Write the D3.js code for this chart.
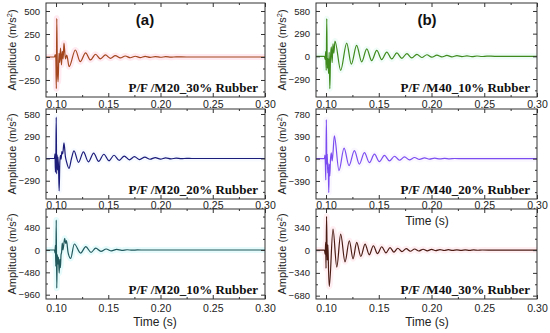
<!DOCTYPE html>
<html><head><meta charset="utf-8">
<script src="https://cdn.jsdelivr.net/npm/d3@7"></script>
<style>body{margin:0;background:#fff}svg{display:block}</style>
</head><body>
<svg id="c" width="550" height="333"></svg>
<script>
// ---------- data ----------
const panelNames = ["P/F /M20_30% Rubber","P/F /M20_20% Rubber","P/F /M20_10% Rubber",
                    "P/F /M40_10% Rubber","P/F /M40_20% Rubber","P/F /M40_30% Rubber"];
const xTicks = [0.10,0.15,0.20,0.25,0.30];
const yTicksM20_30 = [-250,0,250,500];
const yTicksM20_20 = [-290,0,290,580];
const yTicksM20_10 = [-960,-480,0,480];
const yTicksM40_10 = [-290,0,290,580];
const yTicksM40_20 = [-390,0,390,780];
const yTicksM40_30 = [-680,-340,0,340];

// [time (s), amplitude (m/s^2)] — extrema
const m20_30 = [[0.0904,0],[0.0985,0],[0.0992,25],[0.0998,-10],[0.1003,-345],[0.1007,420],[0.1013,-150],
 [0.1020,-270],[0.1028,40],[0.1035,-60],[0.1043,98],[0.1052,-87],[0.1060,60],[0.1068,-20],[0.1076,152],
 [0.1090,-20],[0.1103,20],[0.1125,-105],[0.1185,76],[0.1232,-51],[0.1283,45],[0.1330,-32],[0.1378,30],
 [0.1425,-20],[0.1473,22],[0.1520,-14],[0.1568,15],[0.1615,-10],[0.1663,11],[0.1710,-8],[0.1758,8],
 [0.1805,-6],[0.1853,6],[0.1900,-5],[0.1950,4],[0.2000,-3],[0.2050,3],[0.2100,-2],[0.2150,2],[0.2250,0],[0.3000,0]];
const m20_20 = [[0.0904,0],[0.0985,0],[0.0990,60],[0.0994,-180],[0.0998,-40],[0.1002,540],[0.1006,-200],
 [0.1010,50],[0.1014,-150],[0.1018,20],[0.1024,-120],[0.1030,-421],[0.1036,-60],[0.1042,40],[0.1048,-10],
 [0.1056,90],[0.1064,60],[0.1076,203],[0.1090,20],[0.1100,-40],[0.1124,-130],[0.1148,0],[0.1172,99],
 [0.1215,-50],[0.1262,86],[0.1310,-45],[0.1360,70],[0.1408,-38],[0.1458,55],[0.1507,-30],[0.1555,42],
 [0.1605,-24],[0.1653,32],[0.1702,-18],[0.1750,24],[0.1800,-14],[0.1850,18],[0.1900,-10],[0.1950,12],
 [0.2000,-8],[0.2050,8],[0.2100,-5],[0.2150,5],[0.2200,-3],[0.2250,2],[0.2300,0],[0.3000,0]];
const m20_10 = [[0.0904,0],[0.0985,0],[0.0990,-60],[0.0994,100],[0.0998,-350],[0.1002,645],[0.1007,-820],
 [0.1012,-100],[0.1018,-300],[0.1023,-150],[0.1030,-495],[0.1036,-200],[0.1042,-380],[0.1048,-100],
 [0.1053,-50],[0.1060,150],[0.1066,0],[0.1083,251],[0.1092,140],[0.1100,200],[0.1115,-50],[0.1140,-180],
 [0.1175,129],[0.1235,-65],[0.1285,72],[0.1335,-50],[0.1380,40],[0.1430,-30],[0.1480,22],[0.1530,-18],
 [0.1580,12],[0.1630,-8],[0.1680,6],[0.1730,-4],[0.1780,2],[0.1850,0],[0.3000,0]];
const m40_10 = [[0.0905,0],[0.0985,0],[0.0992,-40],[0.0997,60],[0.1002,-180],[0.1007,482],[0.1012,-150],
 [0.1018,-30],[0.1024,-220],[0.1030,50],[0.1036,-413],[0.1042,-50],[0.1050,120],[0.1058,-80],[0.1066,160],
 [0.1074,40],[0.1085,196],[0.1139,-179],[0.1196,170],[0.1240,-100],[0.1290,140],[0.1338,-70],[0.1386,95],
 [0.1433,-55],[0.1481,75],[0.1528,-42],[0.1576,55],[0.1623,-33],[0.1671,43],[0.1718,-26],[0.1766,34],
 [0.1813,-20],[0.1861,26],[0.1908,-15],[0.1956,20],[0.2003,-11],[0.2051,15],[0.2098,-8],[0.2146,11],
 [0.2193,-6],[0.2241,8],[0.2288,-4],[0.2336,6],[0.2383,-3],[0.2431,4],[0.2478,-2],[0.2526,3],[0.2600,0],[0.3000,0]];
const m40_20 = [[0.0905,0],[0.0985,0],[0.0990,60],[0.0994,-100],[0.0998,-373],[0.1003,680],[0.1008,-100],
 [0.1012,80],[0.1016,-250],[0.1020,-80],[0.1026,-595],[0.1031,-100],[0.1036,-300],[0.1042,-30],[0.1050,100],
 [0.1058,-40],[0.1066,100],[0.1079,397],[0.1123,-210],[0.1171,182],[0.1218,-122],[0.1269,140],[0.1316,-95],
 [0.1364,105],[0.1411,-70],[0.1459,78],[0.1506,-52],[0.1554,57],[0.1601,-38],[0.1649,42],[0.1696,-28],
 [0.1744,30],[0.1791,-20],[0.1839,20],[0.1886,-14],[0.1934,13],[0.1980,-9],[0.2030,8],[0.2080,-5],
 [0.2125,4],[0.2170,-3],[0.2220,2],[0.2300,0],[0.3000,0]];
const m40_30 = [[0.0905,0],[0.0985,0],[0.0992,-60],[0.0997,120],[0.1000,-274],[0.1005,505],[0.1012,-150],
 [0.1018,80],[0.1024,-300],[0.1031,-544],[0.1066,315],[0.1102,-255],[0.1139,240],[0.1180,-175],[0.1221,140],
 [0.1256,-130],[0.1291,115],[0.1330,-95],[0.1370,90],[0.1410,-70],[0.1449,65],[0.1488,-52],[0.1528,50],
 [0.1568,-40],[0.1607,38],[0.1644,-30],[0.1680,28],[0.1720,-22],[0.1760,22],[0.1800,-17],[0.1840,17],
 [0.1880,-13],[0.1920,13],[0.1960,-10],[0.2000,10],[0.2040,-8],[0.2080,8],[0.2120,-6],[0.2160,6],
 [0.2200,-5],[0.2240,5],[0.2280,-4],[0.2320,4],[0.2360,-3],[0.2400,3],[0.2440,-2],[0.2480,2],[0.2600,0],[0.3000,0]];

// ---------- layout ----------
const cols = [{x0:46,x1:265,dom:[0.0904,0.30],ylab:16,tag:"(a)",tagX:145,timeX:155},
              {x0:316,x1:537,dom:[0.0905,0.30],ylab:286,tag:"(b)",tagX:427,timeX:427}];
const rows = [{t:3,b:97,lab:108},{t:109,b:199,lab:209},{t:209,b:299,lab:312}];
const panels = [
 {c:0,r:0,data:m20_30,yd:[-435,587],yt:yTicksM20_30,col:"#a3461e",halo:"#ffb3cc",name:panelNames[0]},
 {c:0,r:1,data:m20_20,yd:[-528,645],yt:yTicksM20_20,col:"#1b1b7a",halo:"#e2f0ff",name:panelNames[1]},
 {c:0,r:2,data:m20_10,yd:[-1053,882],yt:yTicksM20_10,col:"#22595d",halo:"#a6f2f2",name:panelNames[2]},
 {c:1,r:0,data:m40_10,yd:[-520,682],yt:yTicksM40_10,col:"#3e8a1c",halo:"#c6f5e2",name:panelNames[3]},
 {c:1,r:1,data:m40_20,yd:[-705,867],yt:yTicksM40_20,col:"#7b4df0",halo:"#ece4ff",name:panelNames[4]},
 {c:1,r:2,data:m40_30,yd:[-730,614],yt:yTicksM40_30,col:"#4b1c14",halo:"#ffc4d4",name:panelNames[5]}
];

const svg = d3.select("#c");
const sans = "Arial, 'Liberation Sans', sans-serif";

panels.forEach(p=>{
  const C = cols[p.c], R = rows[p.r];
  const x = d3.scaleLinear().domain(C.dom).range([C.x0,C.x1]);
  const y = d3.scaleLinear().domain(p.yd).range([R.b,R.t]);
  const g = svg.append("g");
  const step = p.yt[1]-p.yt[0];
  const minorY = [p.yt[0]-step/2];
  p.yt.forEach(v=>minorY.push(v+step/2));
  const minorYin = minorY.filter(v=>v>p.yd[0]&&v<p.yd[1]);
  const minorX = [0.125,0.175,0.225,0.275];

  // signal
  const line = d3.line().x(d=>x(d[0])).y(d=>y(d[1])).curve(d3.curveMonotoneX);
  g.append("path").datum(p.data).attr("d",line).attr("fill","none")
   .attr("stroke",p.halo).attr("stroke-width",6).attr("stroke-opacity",0.28).attr("stroke-linejoin","round");
  g.append("path").datum(p.data).attr("d",line).attr("fill","none")
   .attr("stroke",p.col).attr("stroke-width",1.2).attr("stroke-linejoin","round");

  // axes
  const styleAx = sel=>{sel.select(".domain").remove();
    sel.selectAll("line").attr("stroke","#333").attr("stroke-width",1);
    sel.selectAll("text").attr("fill","#222").attr("font-family",sans);};
  const ax = (gen, tr)=>g.append("g").attr("transform",tr).call(gen).call(styleAx);
  const bx = ax(d3.axisBottom(x).tickValues(xTicks).tickSize(-4).tickPadding(0).tickFormat(d3.format(".2f")),`translate(0,${R.b})`);
  bx.selectAll("text").attr("font-size",10.5).attr("dy",null).attr("y",R.lab-R.b);
  ax(d3.axisBottom(x).tickValues(minorX).tickSize(-2).tickFormat(""),`translate(0,${R.b})`);
  ax(d3.axisTop(x).tickValues(xTicks).tickSize(-4).tickFormat(""),`translate(0,${R.t})`);
  ax(d3.axisTop(x).tickValues(minorX).tickSize(-2).tickFormat(""),`translate(0,${R.t})`);
  const ly = ax(d3.axisLeft(y).tickValues(p.yt).tickSize(-4).tickPadding(6).tickFormat(d3.format("d")),`translate(${C.x0},0)`);
  ly.selectAll("text").attr("font-size",9.5);
  ax(d3.axisLeft(y).tickValues(minorYin).tickSize(-2).tickFormat(""),`translate(${C.x0},0)`);
  ax(d3.axisRight(y).tickValues(p.yt).tickSize(-4).tickFormat(""),`translate(${C.x1},0)`);
  ax(d3.axisRight(y).tickValues(minorYin).tickSize(-2).tickFormat(""),`translate(${C.x1},0)`);

  // frame
  g.append("rect").attr("x",C.x0).attr("y",R.t).attr("width",C.x1-C.x0).attr("height",R.b-R.t)
   .attr("fill","none").attr("stroke","#333").attr("stroke-width",1);

  // y label
  const yl = g.append("text").attr("transform",`translate(${C.ylab},${(R.t+R.b)/2}) rotate(-90)`)
   .attr("text-anchor","middle").attr("font-family",sans).attr("font-size",11).attr("fill","#222");
  yl.append("tspan").text("Amplitude (m/s");
  yl.append("tspan").text("2").attr("font-size",7.5).attr("dy",-4);
  yl.append("tspan").text(")").attr("dy",4);

  // panel name
  g.append("text").attr("x",C.x1-7).attr("y",R.b-5).attr("text-anchor","end")
   .attr("font-family","'Liberation Serif','Times New Roman',serif").attr("font-weight","bold")
   .attr("font-size",13).attr("fill","#111").text(p.name);
});

cols.forEach(C=>{
  svg.append("text").attr("x",C.tagX).attr("y",25).attr("text-anchor","middle")
   .attr("font-family",sans).attr("font-weight","bold").attr("font-size",15).attr("fill","#111").text(C.tag);
  svg.append("text").attr("x",C.timeX).attr("y",326).attr("text-anchor","middle")
   .attr("font-family",sans).attr("font-size",12).attr("fill","#222").text("Time (s)");
});
svg.append("text").attr("x",cols[1].timeX).attr("y",225).attr("text-anchor","middle")
   .attr("font-family",sans).attr("font-size",12).attr("fill","#222").text("Time (s)");
</script>
</body></html>
